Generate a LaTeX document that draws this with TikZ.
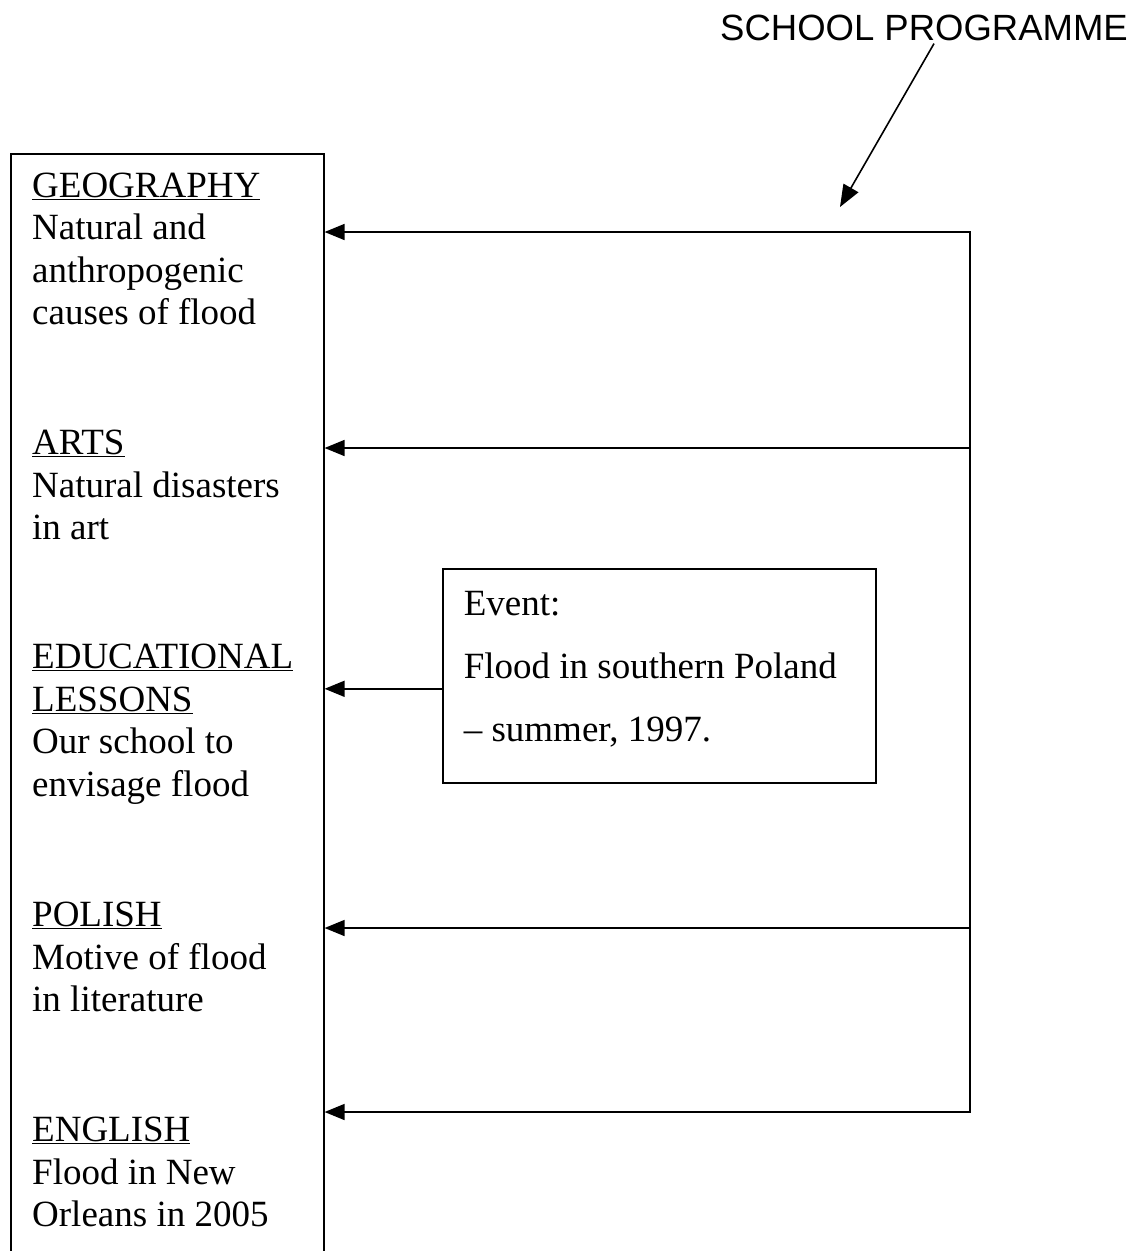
\documentclass[tikz,border=0pt]{standalone}
\usepackage{fontspec}
\setmainfont{Liberation Serif}
\newfontfamily\labelfont{Liberation Sans}
\usetikzlibrary{arrows.meta,positioning}
\newcommand{\subjfont}{\fontsize{37}{42.5}\selectfont}
\newcommand{\eventfont}{\fontsize{37}{63}\selectfont}
\tikzset{
  subjtext/.style={anchor=north west,inner sep=0pt,align=left,font=\subjfont},
  feed/.style={line width=1.6pt,-{Triangle[length=20pt,width=16pt]}},
  rim/.style={draw,line width=1.6pt,inner sep=0pt}
}

\begin{document}
\begin{tikzpicture}[x=1pt,y=-1pt]
  \useasboundingbox (0,0) rectangle (1136,1251);
  % label and its pointer
  \node[font=\labelfont\fontsize{36.5}{40}\selectfont,anchor=base west,inner sep=3pt] (programme) at (717,40) {SCHOOL PROGRAMME};
  \coordinate (progtip) at (840,207);
  \draw[line width=1.6pt,-{Triangle[length=22pt,width=17pt]}] ([xshift=10pt]programme.south) -- (progtip);
  % tall box of subjects
  \node[rim,anchor=north west,minimum width=313pt,minimum height=1200pt] (subjects) at (10,153) {};
  \node[subjtext] (geo) at (32,172.5) {\underline{GEOGRAPHY}\\Natural and\\anthropogenic\\causes of flood};
  \node[subjtext] (arts) at (32,430) {\underline{ARTS}\\Natural disasters\\in art};
  \node[subjtext] (edu) at (32,644) {\underline{EDUCATIONAL}\\\underline{LESSONS}\\Our school to\\envisage flood};
  \node[subjtext] (polish) at (32,902) {\underline{POLISH}\\Motive of flood\\in literature};
  \node[subjtext] (english) at (32,1117) {\underline{ENGLISH}\\Flood in New\\Orleans in 2005};
  % event box
  \node[rim,anchor=north west,inner xsep=21pt,inner ysep=22pt,font=\eventfont] (event) at (442,568)
    {\parbox[t][170pt][t]{391pt}{Event:\\Flood in southern Poland\\– summer, 1997.}};
  % programme line on the right
  \coordinate (tapgeo) at (970,232);
  \coordinate (taparts) at (970,448);
  \coordinate (tappolish) at (970,928);
  \coordinate (tapenglish) at (970,1112);
  \draw[feed] (taparts) -- (tapgeo) -- (tapgeo -| subjects.east);
  \draw[feed] (taparts) -- (taparts -| subjects.east);
  \draw[feed] (taparts) -- (tapenglish) -- (tapenglish -| subjects.east);
  \draw[feed] (tappolish) -- (tappolish -| subjects.east);
  \draw[feed] ([yshift=-13pt]event.west) -- ([yshift=-13pt]event.west -| subjects.east);
\end{tikzpicture}
\end{document}
